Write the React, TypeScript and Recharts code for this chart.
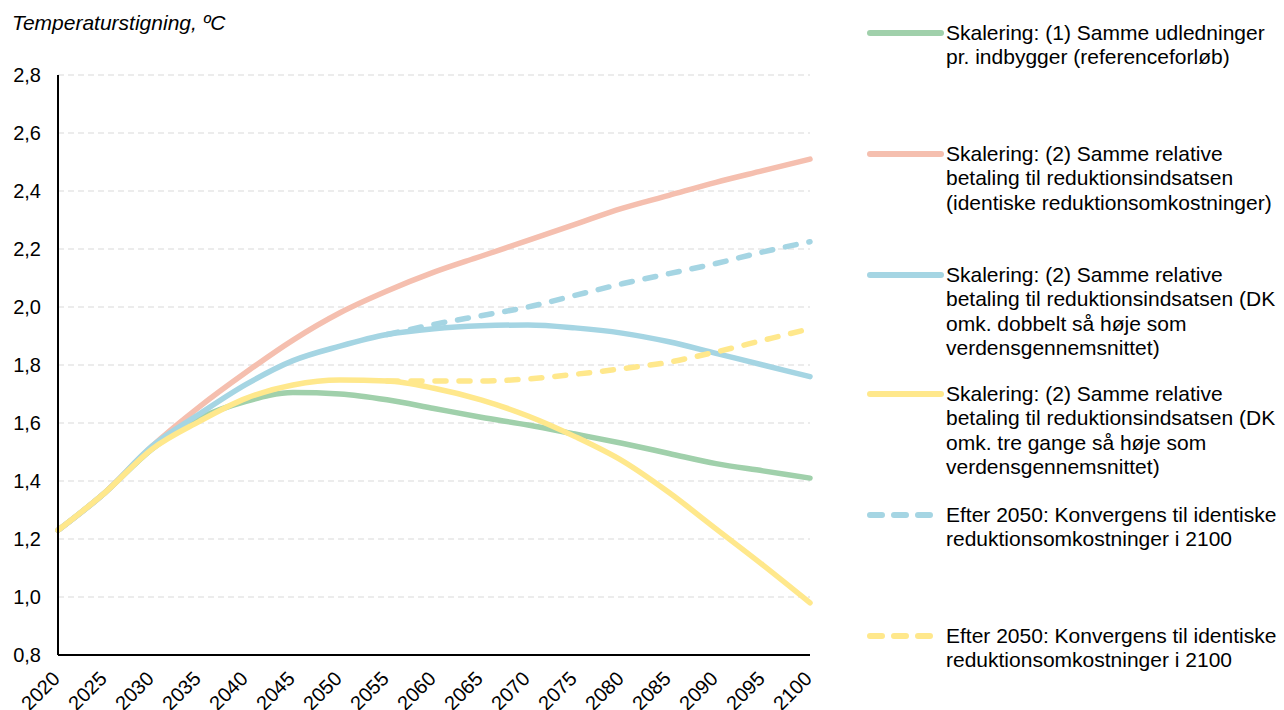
import React from 'react';
import { LineChart, Line, XAxis, YAxis, CartesianGrid } from 'recharts';

// aar, 5-aarsspring
const years = [2020, 2025, 2030, 2035, 2040, 2045, 2050, 2055, 2060, 2065, 2070, 2075, 2080, 2085, 2090, 2095, 2100];

// (1) Samme udledninger pr. indbygger
const scen1 = [1.23, 1.36, 1.51, 1.615, 1.675, 1.705, 1.7, 1.68, 1.65, 1.62, 1.593, 1.562, 1.53, 1.495, 1.46, 1.435, 1.41];
// (2) identiske reduktionsomkostninger
const scen2 = [1.23, 1.36, 1.52, 1.655, 1.775, 1.886, 1.98, 2.055, 2.12, 2.175, 2.23, 2.285, 2.34, 2.385, 2.43, 2.47, 2.51];
// (2) DK omk. dobbelt saa hoeje
const scen2x2 = [1.23, 1.36, 1.52, 1.63, 1.733, 1.815, 1.865, 1.905, 1.925, 1.935, 1.938, 1.928, 1.91, 1.88, 1.84, 1.8, 1.76];
// (2) DK omk. tre gange saa hoeje
const scen2x3 = [1.23, 1.36, 1.51, 1.605, 1.685, 1.731, 1.748, 1.745, 1.72, 1.68, 1.624, 1.553, 1.47, 1.36, 1.235, 1.11, 0.98];
// konvergens efter 2050
const conv2x2 = [null, null, null, null, null, null, null, 1.905, 1.94, 1.97, 2.0, 2.04, 2.08, 2.115, 2.15, 2.19, 2.225];
const conv2x3 = [null, null, null, null, null, null, null, 1.745, 1.745, 1.745, 1.752, 1.768, 1.787, 1.81, 1.845, 1.885, 1.925];

const yTicks = [0.8, 1.0, 1.2, 1.4, 1.6, 1.8, 2.0, 2.2, 2.4, 2.6, 2.8];

const GREEN = '#A0D0AB';
const SALMON = '#F5BFAF';
const BLUE = '#A5D5E3';
const YELLOW = '#FFE88C';

const FONT = '"Liberation Sans", Arial, sans-serif';

const data = years.map((year, i) => ({
  year,
  s1: scen1[i],
  s2: scen2[i],
  s2x2: scen2x2[i],
  s2x3: scen2x3[i],
  c2x2: conv2x2[i],
  c2x3: conv2x3[i],
}));

const legendItems = [
  { color: GREEN, dashed: false, top: 33, lines: ['Skalering: (1) Samme udledninger', 'pr. indbygger (referenceforløb)'] },
  { color: SALMON, dashed: false, top: 154, lines: ['Skalering: (2) Samme relative', 'betaling til reduktionsindsatsen', '(identiske reduktionsomkostninger)'] },
  { color: BLUE, dashed: false, top: 275, lines: ['Skalering: (2) Samme relative', 'betaling til reduktionsindsatsen (DK', 'omk. dobbelt så høje som', 'verdensgennemsnittet)'] },
  { color: YELLOW, dashed: false, top: 394, lines: ['Skalering: (2) Samme relative', 'betaling til reduktionsindsatsen (DK', 'omk. tre gange så høje som', 'verdensgennemsnittet)'] },
  { color: BLUE, dashed: true, top: 515, lines: ['Efter 2050: Konvergens til identiske', 'reduktionsomkostninger i 2100'] },
  { color: YELLOW, dashed: true, top: 636, lines: ['Efter 2050: Konvergens til identiske', 'reduktionsomkostninger i 2100'] },
];

const YearTick = ({ x, y, payload }: any) => (
  <text
    x={x + 3}
    y={y + 17}
    transform={`rotate(-45, ${x + 3}, ${y + 17})`}
    textAnchor="end"
    fontSize={20}
    fontFamily={FONT}
    fill="#000"
  >
    {payload.value}
  </text>
);

const LH = 24.5;

const App: React.FC = () => {
  return (
    <div style={{ position: 'absolute', left: 0, top: 0, width: 1284, height: 710, background: '#fff', fontFamily: FONT, overflow: 'hidden' }}>
      <div style={{ position: 'absolute', left: 12, top: 11, fontSize: 21, fontStyle: 'italic', color: '#000', whiteSpace: 'nowrap' }}>
        Temperaturstigning, ºC
      </div>

      <div style={{ position: 'absolute', left: 0, top: 0 }}>
        <LineChart width={860} height={710} data={data} margin={{ top: 75, right: 50, bottom: 0, left: 8 }}>
          <CartesianGrid vertical={false} stroke="#E6E6E6" strokeWidth={1.5} strokeDasharray="6 4" />
          <XAxis
            dataKey="year"
            type="number"
            domain={[2020, 2100]}
            ticks={years}
            interval={0}
            height={55}
            axisLine={{ stroke: '#000', strokeWidth: 2 }}
            tickLine={false}
            tick={<YearTick />}
          />
          <YAxis
            domain={[0.8, 2.8]}
            ticks={yTicks}
            interval={0}
            width={50}
            axisLine={{ stroke: '#000', strokeWidth: 2 }}
            tickLine={false}
            tickMargin={11}
            tickFormatter={(v: number) => v.toFixed(1).replace('.', ',')}
            tick={{ fontSize: 20, fontFamily: FONT, fill: '#000' }}
          />
          <Line type="monotone" dataKey="s1" stroke={GREEN} strokeWidth={5.5} dot={false} strokeLinecap="round" isAnimationActive={false} />
          <Line type="monotone" dataKey="s2" stroke={SALMON} strokeWidth={5.5} dot={false} strokeLinecap="round" isAnimationActive={false} />
          <Line type="monotone" dataKey="s2x2" stroke={BLUE} strokeWidth={5.5} dot={false} strokeLinecap="round" isAnimationActive={false} />
          <Line type="monotone" dataKey="s2x3" stroke={YELLOW} strokeWidth={5.5} dot={false} strokeLinecap="round" isAnimationActive={false} />
          <Line type="monotone" dataKey="c2x2" stroke={BLUE} strokeWidth={5.5} strokeDasharray="11 13" dot={false} strokeLinecap="round" isAnimationActive={false} />
          <Line type="monotone" dataKey="c2x3" stroke={YELLOW} strokeWidth={5.5} strokeDasharray="11 13" dot={false} strokeLinecap="round" isAnimationActive={false} />
        </LineChart>
      </div>

      {legendItems.map((item, i) => (
        <div key={i}>
          <svg style={{ position: 'absolute', left: 866, top: item.top - 5 }} width={80} height={10}>
            <line
              x1={4}
              x2={item.dashed ? 70 : 75}
              y1={5}
              y2={5}
              stroke={item.color}
              strokeWidth={6}
              strokeLinecap="round"
              strokeDasharray={item.dashed ? '12 12' : undefined}
            />
          </svg>
          <div style={{ position: 'absolute', left: 946, top: item.top - LH / 2, fontSize: 21, lineHeight: `${LH}px`, color: '#000', whiteSpace: 'nowrap' }}>
            {item.lines.map((l, j) => (
              <div key={j}>{l}</div>
            ))}
          </div>
        </div>
      ))}
    </div>
  );
};

export default App;
